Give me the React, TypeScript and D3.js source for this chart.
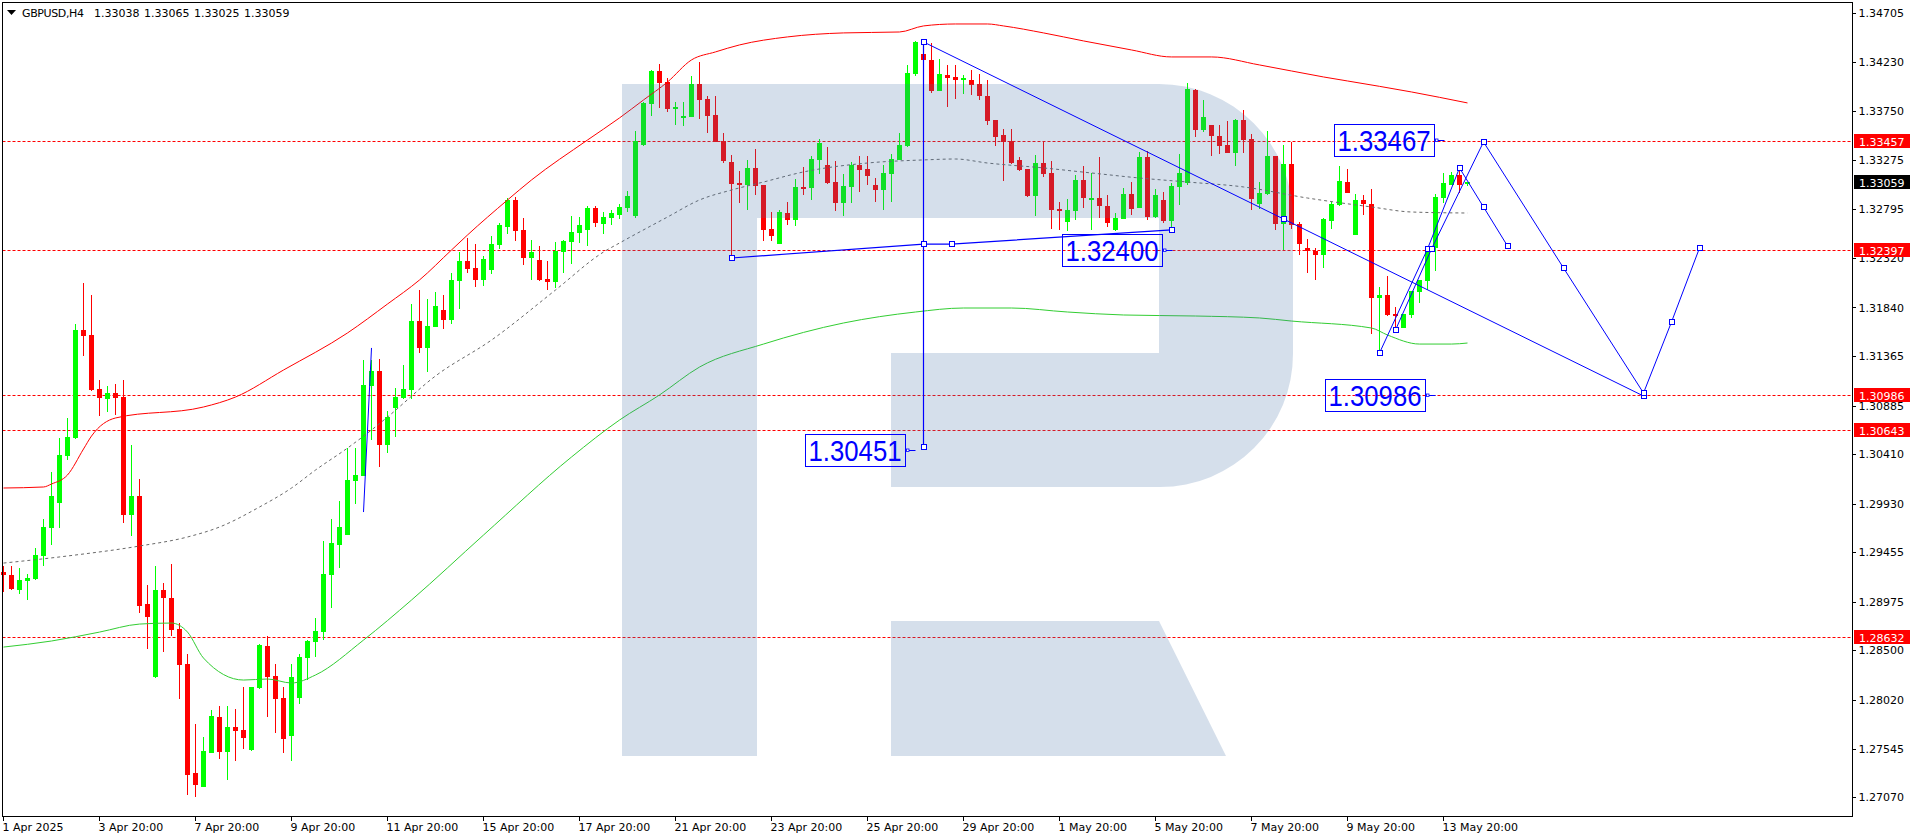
import * as d3 from "d3";
import { useEffect, useRef } from "react";

const opens = [
	1.29264, 1.29235, 1.29088, 1.29176, 1.29196, 1.2942, 1.29692, 1.29936, 1.30394, 1.30569,
	1.31621, 1.31572, 1.31046, 1.30949, 1.31007, 1.30968, 1.29819, 1.30004, 1.28952, 1.28241,
	1.29088, 1.2901, 1.28708, 1.28368, 1.27306, 1.2717, 1.27501, 1.27852, 1.2751, 1.27754,
	1.27725, 1.2753, 1.28134, 1.28543, 1.28251, 1.28037, 1.27667, 1.28037, 1.28426, 1.28582,
	1.28679, 1.29235, 1.29527, 1.29624, 1.3015, 1.30199, 1.31075, 1.31222, 1.30501, 1.30861,
	1.30959, 1.31036, 1.31708, 1.31446, 1.3165, 1.31816, 1.31718, 1.32098, 1.32293, 1.32225,
	1.32108, 1.32205, 1.32449, 1.32624, 1.32887, 1.32595, 1.32322, 1.32303, 1.32118, 1.32088,
	1.3238, 1.32478, 1.32566, 1.32595, 1.32809, 1.32653, 1.32712, 1.32741, 1.32809, 1.32731,
	1.33423, 1.33822, 1.34143, 1.34036, 1.33773, 1.33686, 1.33695, 1.34017, 1.33871, 1.33715,
	1.33462, 1.33257, 1.33053, 1.33033, 1.33199, 1.33033, 1.32605, 1.32458, 1.3276, 1.32692,
	1.33014, 1.33004, 1.33277, 1.33228, 1.33062, 1.32858, 1.33014, 1.33228, 1.33189, 1.33033,
	1.32984, 1.3314, 1.33277, 1.33413, 1.34114, 1.34309, 1.34251, 1.33949, 1.34105, 1.34085,
	1.34056, 1.34056, 1.34017, 1.339, 1.33666, 1.3352, 1.33462, 1.33277, 1.33189, 1.32926,
	1.33247, 1.3315, 1.32799, 1.32673, 1.3278, 1.33082, 1.32887, 1.32906, 1.32829, 1.32595,
	1.32702, 1.32945, 1.32809, 1.33306, 1.32721, 1.32887, 1.32682, 1.33014, 1.33053, 1.33958,
	1.33569, 1.33618, 1.3351, 1.33423, 1.33345, 1.33666, 1.33481, 1.32848, 1.32945, 1.33316,
	1.32653, 1.33238, 1.32653, 1.32419, 1.3239, 1.32351, 1.32682, 1.32838, 1.33062, 1.32546,
	1.32887, 1.32848, 1.31932, 1.31962, 1.31777, 1.3164, 1.31767, 1.31991, 1.32098, 1.32419,
	1.32906, 1.33033, 1.33131, 1.33038,
];

const highs = [
	1.29322, 1.29322, 1.29303, 1.29244, 1.29498, 1.2978, 1.30238, 1.30569, 1.30764, 1.31679,
	1.32079, 1.31962, 1.31134, 1.31075, 1.31095, 1.31134, 1.30501, 1.3017, 1.29137, 1.29322,
	1.29157, 1.29342, 1.28767, 1.28465, 1.27783, 1.27657, 1.2792, 1.27959, 1.27959, 1.27929,
	1.28144, 1.28144, 1.28562, 1.2864, 1.28368, 1.28144, 1.28368, 1.28465, 1.28601, 1.28816,
	1.29566, 1.2978, 1.29955, 1.30471, 1.30471, 1.31329, 1.31329, 1.31338, 1.30832, 1.31056,
	1.3128, 1.31874, 1.3201, 1.31923, 1.31991, 1.31962, 1.32176, 1.3238, 1.32517, 1.32458,
	1.32341, 1.32536, 1.32663, 1.32906, 1.32916, 1.32712, 1.32497, 1.32439, 1.32293, 1.32478,
	1.32497, 1.32731, 1.32721, 1.32829, 1.32829, 1.3277, 1.3279, 1.32848, 1.32975, 1.33559,
	1.33842, 1.34153, 1.34212, 1.34075, 1.33842, 1.33842, 1.34095, 1.34231, 1.339, 1.339,
	1.3354, 1.33325, 1.3317, 1.33277, 1.33384, 1.33033, 1.3277, 1.3279, 1.32868, 1.33092,
	1.33208, 1.33316, 1.33481, 1.33403, 1.33267, 1.3314, 1.33257, 1.33316, 1.33316, 1.33101,
	1.33228, 1.33335, 1.3354, 1.34202, 1.34436, 1.34416, 1.34416, 1.3426, 1.34202, 1.34202,
	1.34105, 1.34153, 1.34114, 1.34056, 1.33666, 1.33579, 1.33579, 1.33306, 1.33189, 1.33325,
	1.33462, 1.33267, 1.32868, 1.32897, 1.33131, 1.33218, 1.3315, 1.33306, 1.32936, 1.3276,
	1.33004, 1.33062, 1.33355, 1.33364, 1.32994, 1.32965, 1.33053, 1.33335, 1.34027, 1.33968,
	1.33861, 1.33618, 1.33618, 1.33656, 1.33676, 1.33764, 1.3353, 1.33062, 1.33559, 1.33316,
	1.33423, 1.33452, 1.32673, 1.32507, 1.32419, 1.32712, 1.32868, 1.33218, 1.33189, 1.32945,
	1.32936, 1.32994, 1.3204, 1.32147, 1.31845, 1.31777, 1.32001, 1.32108, 1.324, 1.32945,
	1.3315, 1.3316, 1.33179, 1.33065,
];

const lows = [
	1.29069, 1.29088, 1.29049, 1.28991, 1.29186, 1.29322, 1.29527, 1.29692, 1.30355, 1.30559,
	1.31368, 1.31027, 1.30783, 1.30822, 1.30793, 1.29741, 1.29614, 1.28865, 1.28514, 1.28231,
	1.28485, 1.2864, 1.28027, 1.27092, 1.27072, 1.2717, 1.27501, 1.27442, 1.27238, 1.27423,
	1.2754, 1.2752, 1.28124, 1.27852, 1.27696, 1.27501, 1.27423, 1.27978, 1.28212, 1.28436,
	1.28601, 1.28913, 1.29303, 1.29624, 1.29926, 1.30199, 1.30549, 1.30286, 1.30423, 1.30579,
	1.30949, 1.30949, 1.31397, 1.31212, 1.3165, 1.31631, 1.31679, 1.31825, 1.32176, 1.3204,
	1.32049, 1.32166, 1.3241, 1.32556, 1.32488, 1.32254, 1.32108, 1.32098, 1.3201, 1.3203,
	1.32176, 1.32264, 1.32468, 1.32439, 1.32624, 1.32556, 1.32644, 1.32702, 1.3277, 1.32712,
	1.33413, 1.33705, 1.33783, 1.33744, 1.33618, 1.33608, 1.33695, 1.33676, 1.3354, 1.33452,
	1.33247, 1.32322, 1.32858, 1.3279, 1.32936, 1.32488, 1.32488, 1.32458, 1.32644, 1.32634,
	1.32936, 1.32887, 1.3314, 1.33043, 1.3278, 1.32731, 1.32858, 1.32965, 1.33033, 1.32868,
	1.3279, 1.32868, 1.33277, 1.33403, 1.34095, 1.33958, 1.33929, 1.33949, 1.33793, 1.33871,
	1.33919, 1.3391, 1.33861, 1.33618, 1.33413, 1.33072, 1.33238, 1.3317, 1.32916, 1.32731,
	1.33111, 1.32605, 1.32595, 1.32585, 1.32692, 1.32809, 1.32595, 1.32712, 1.32624, 1.32585,
	1.32702, 1.32741, 1.32809, 1.32692, 1.32712, 1.32663, 1.32595, 1.32838, 1.33033, 1.33501,
	1.33549, 1.33316, 1.33335, 1.33345, 1.33218, 1.33345, 1.3279, 1.32799, 1.32936, 1.32595,
	1.324, 1.32605, 1.32351, 1.32176, 1.32108, 1.32225, 1.32605, 1.32829, 1.32955, 1.32546,
	1.32741, 1.31582, 1.31406, 1.31757, 1.3164, 1.3164, 1.31738, 1.31884, 1.3201, 1.32195,
	1.32858, 1.33033, 1.32955, 1.33025,
];

const closes = [
	1.29235, 1.29098, 1.29186, 1.29205, 1.29429, 1.29702, 1.30004, 1.30403, 1.30579, 1.31621,
	1.31562, 1.31036, 1.30959, 1.31007, 1.30959, 1.29819, 1.30004, 1.28933, 1.28825, 1.29088,
	1.2901, 1.28699, 1.28358, 1.27287, 1.27189, 1.2752, 1.27861, 1.2751, 1.27754, 1.27715,
	1.27647, 1.28144, 1.28553, 1.28241, 1.28027, 1.27637, 1.28241, 1.28436, 1.28592, 1.28689,
	1.29244, 1.29546, 1.29702, 1.3016, 1.30209, 1.31085, 1.31222, 1.30501, 1.30773, 1.30968,
	1.31046, 1.31708, 1.31446, 1.3166, 1.31855, 1.31718, 1.32108, 1.32293, 1.32215, 1.32108,
	1.32312, 1.32458, 1.32644, 1.32887, 1.32585, 1.32322, 1.3238, 1.32108, 1.32088, 1.3239,
	1.32488, 1.32575, 1.32644, 1.32809, 1.32663, 1.32721, 1.3276, 1.32819, 1.32926, 1.33462,
	1.33832, 1.34143, 1.34027, 1.33773, 1.33793, 1.33705, 1.34017, 1.33861, 1.33705, 1.33452,
	1.33267, 1.33043, 1.33043, 1.33199, 1.33023, 1.32595, 1.32536, 1.3277, 1.32692, 1.33014,
	1.33004, 1.33286, 1.33442, 1.33053, 1.32858, 1.33023, 1.33228, 1.33179, 1.33121, 1.32984,
	1.3315, 1.33286, 1.33423, 1.34124, 1.34426, 1.34251, 1.33949, 1.34114, 1.34075, 1.34056,
	1.34075, 1.34007, 1.339, 1.33656, 1.33501, 1.33452, 1.33247, 1.33179, 1.32926, 1.33247,
	1.3314, 1.3279, 1.3279, 1.3279, 1.33082, 1.32906, 1.32906, 1.32829, 1.32663, 1.32712,
	1.32945, 1.32799, 1.33306, 1.32721, 1.32936, 1.32682, 1.33023, 1.3315, 1.33968, 1.33569,
	1.33695, 1.3351, 1.33413, 1.33345, 1.33666, 1.33471, 1.32897, 1.32955, 1.33316, 1.32653,
	1.33238, 1.32644, 1.32458, 1.3239, 1.32351, 1.32702, 1.32848, 1.33072, 1.32955, 1.32887,
	1.32848, 1.31932, 1.31962, 1.31767, 1.31757, 1.31777, 1.32001, 1.32108, 1.324, 1.32916,
	1.33053, 1.33131, 1.33033, 1.33059,
];

// upper band
const upperBars = [0, 5, 6, 8, 10, 11, 14, 25, 29, 35, 43, 48, 52, 56, 58, 63, 66, 73, 77, 80, 83, 86, 89, 92, 98, 105, 112, 115, 119, 123, 125, 130, 135, 141, 146, 151, 157, 165, 168, 176, 183];
const upperBand = [
	1.30082, 1.30092, 1.30121, 1.30209, 1.30462, 1.30588, 1.30764, 1.30871, 1.30968, 1.31231, 1.31592,
	1.31874, 1.32108, 1.324, 1.32546, 1.32887, 1.33082, 1.33471, 1.33686, 1.33861, 1.34036, 1.34251,
	1.34329, 1.34397, 1.34475, 1.34514, 1.34523, 1.34582, 1.34601, 1.34601, 1.34582, 1.34514, 1.34436,
	1.34348, 1.3428, 1.3428, 1.34202, 1.34085, 1.34046, 1.33939, 1.33832,
];

// middle line
const middleBars = [0, 8, 17, 23, 27, 32, 36, 39, 43, 46, 48, 54, 61, 69, 75, 77, 83, 87, 91, 95, 100, 108, 115, 119, 123, 130, 136, 142, 148, 155, 163, 171, 176, 183];
const middleLine = [
	1.29351, 1.2942, 1.29517, 1.29605, 1.29702, 1.29897, 1.30082, 1.30257, 1.30471, 1.30647, 1.30773,
	1.31173, 1.31523, 1.3201, 1.3238, 1.32468, 1.32721, 1.32887, 1.32984, 1.33062, 1.3316, 1.33247,
	1.33277, 1.33286, 1.33247, 1.33199, 1.3315, 1.33101, 1.33062, 1.33014, 1.32906, 1.32819, 1.3277, 1.3276,
];

// lower band
const lowerBars = [0, 6, 12, 17, 21, 23, 25, 30, 33, 36, 39, 45, 51, 60, 71, 77, 82, 87, 95, 105, 114, 120, 126, 133, 140, 149, 157, 161, 171, 173, 177, 181, 183];
const lowerBand = [
	1.28533, 1.28592, 1.28679, 1.28757, 1.28767, 1.28679, 1.28426, 1.28212, 1.28222, 1.28183, 1.28261,
	1.28601, 1.28991, 1.29624, 1.30384, 1.30744, 1.30988, 1.3126, 1.31484, 1.31689, 1.31796, 1.31835,
	1.31835, 1.31796, 1.31767, 1.31757, 1.31738, 1.31708, 1.3164, 1.31572, 1.31484, 1.31484, 1.31494,
];

// drawn objects
const neckBars = [91, 115, 118.5, 146];
const neckPrices = [1.32322, 1.32458, 1.32458, 1.32595];
const dropBars = [115, 160, 205];
const dropPrices = [1.34426, 1.32702, 1.30978];
const stemBars = [115, 115, 115];
const stemPrices = [1.34426, 1.32458, 1.30481];
const pathABars = [172, 178, 182, 185, 188];
const pathAPrices = [1.31397, 1.3241, 1.33199, 1.32819, 1.32439];
const pathBBars = [174, 178.5, 185, 195, 205, 208.5, 212];
const pathBPrices = [1.31621, 1.3241, 1.33452, 1.32225, 1.31007, 1.31699, 1.32419];
const spikeBars = [45, 46];
const spikePrices = [1.29848, 1.31446];

const targetLabels = [1.33467, 1.324, 1.30986, 1.30451];
const targetRightBars = [178.9, 144.9, 177.75, 112.8];

const levelPrices = [1.33457, 1.32397, 1.30986, 1.30643, 1.28632];
const lastPrice = 1.33059;

const priceTicks = [
	1.34705, 1.3423, 1.3375, 1.33275, 1.32795, 1.3232, 1.3184, 1.31365, 1.30885, 1.3041, 1.2993,
	1.29455, 1.28975, 1.285, 1.2802, 1.27545, 1.2707,
];
const timeTickBars = [0, 12, 24, 36, 48, 60, 72, 84, 96, 108, 120, 132, 144, 156, 168, 180];
const timeTickLabels = [
	"1 Apr 2025", "3 Apr 20:00", "7 Apr 20:00", "9 Apr 20:00", "11 Apr 20:00", "15 Apr 20:00",
	"17 Apr 20:00", "21 Apr 20:00", "23 Apr 20:00", "25 Apr 20:00", "29 Apr 20:00", "1 May 20:00",
	"5 May 20:00", "7 May 20:00", "9 May 20:00", "13 May 20:00",
];
const headerTitle = "GBPUSD,H4";
const headerOhlc = [1.33038, 1.33065, 1.33025, 1.33059];

const FONT = "'DejaVu Sans', sans-serif";
const BLUE = "#0000ff";

export default function App() {
	const svgRef = useRef<SVGSVGElement>(null);

	useEffect(() => {
		const svg = d3.select(svgRef.current);
		if (!svg.node()) return;
		svg.selectAll("*").remove();

		const left = 2.5;
		const right = 1852.5;
		const top = 2.5;
		const bottom = 816.5;

		const xScale = d3.scaleLinear().domain([0, 183]).range([3, 1467]);
		const yScale = d3.scaleLinear().domain([1.34705, 1.2707]).range([13.3, 797.3]);

		svg.append("rect").attr("width", 1916).attr("height", 840).attr("fill", "#fff");

		const chart = svg.append("g");

		// Level lines
		levelPrices.forEach((p) => {
			const y = Math.round(yScale(p)) + 0.5;
			chart
				.append("line")
				.attr("x1", left)
				.attr("x2", right)
				.attr("y1", y)
				.attr("y2", y)
				.attr("stroke", "#ff0000")
				.attr("stroke-dasharray", "3 2");
		});

		// Candles
		const candles = chart.append("g").attr("shape-rendering", "crispEdges");
		opens.forEach((open, i) => {
			const close = closes[i];
			const color = close >= open ? "#00ff00" : "#ff0000";
			const x = xScale(i);
			const yHigh = Math.round(yScale(highs[i]));
			const yLow = Math.round(yScale(lows[i]));
			const yTop = Math.round(yScale(Math.max(open, close)));
			const yBottom = Math.round(yScale(Math.min(open, close)));
			candles
				.append("rect")
				.attr("x", x)
				.attr("y", yHigh)
				.attr("width", 1)
				.attr("height", Math.max(1, yLow - yHigh))
				.attr("fill", color);
			candles
				.append("rect")
				.attr("x", x - 2)
				.attr("y", yTop)
				.attr("width", 5)
				.attr("height", Math.max(2, yBottom - yTop))
				.attr("fill", color);
		});

		// Bands
		const pathOf = (bars: number[], prices: number[]) =>
			d3
				.line<number>()
				.x((b) => xScale(b) + 0.5)
				.y((_, i) => yScale(prices[i]))(bars);
		const bandOf = (bars: number[], prices: number[]) =>
			d3
				.line<number>()
				.curve(d3.curveMonotoneX)
				.x((b) => xScale(b) + 0.5)
				.y((_, i) => yScale(prices[i]))(bars);

		chart
			.append("path")
			.attr("d", bandOf(upperBars, upperBand))
			.attr("fill", "none")
			.attr("stroke", "#ff0000")
			.attr("stroke-width", 1);
		chart
			.append("path")
			.attr("d", bandOf(middleBars, middleLine))
			.attr("fill", "none")
			.attr("stroke", "#696969")
			.attr("stroke-width", 1)
			.attr("stroke-dasharray", "3 3");
		chart
			.append("path")
			.attr("d", bandOf(lowerBars, lowerBand))
			.attr("fill", "none")
			.attr("stroke", "#32cd32")
			.attr("stroke-width", 1);

		// Watermark sits over the candles and tints them
		svg
			.append("path")
			.attr(
				"d",
				"M622 84H1159A134 134 0 0 1 1293 218V354A133 133 0 0 1 1160 487H891V353H1159V218H757V756H622Z" +
					"M891 621H1159L1226 756H891Z",
			)
			.attr("fill", "rgb(70,114,167)")
			.attr("fill-opacity", 0.227);

		// Blue objects
		const objects = svg.append("g");
		const drawObject = (bars: number[], prices: number[], width: number, anchors: boolean) => {
			objects
				.append("path")
				.attr("d", pathOf(bars, prices))
				.attr("fill", "none")
				.attr("stroke", BLUE)
				.attr("stroke-width", width);
			if (!anchors) return;
			bars.forEach((b, i) => {
				objects
					.append("rect")
					.attr("x", Math.round(xScale(b)) - 2)
					.attr("y", Math.round(yScale(prices[i])) - 2.5)
					.attr("width", 5)
					.attr("height", 5)
					.attr("fill", "#fff")
					.attr("stroke", BLUE)
					.attr("shape-rendering", "crispEdges");
			});
		};
		drawObject(stemBars, stemPrices, 1.2, false);
		drawObject(neckBars, neckPrices, 1.2, true);
		drawObject(dropBars, dropPrices, 1, true);
		drawObject(pathABars, pathAPrices, 1, true);
		drawObject(pathBBars, pathBPrices, 1, true);
		drawObject(spikeBars, spikePrices, 1, false);
		drawObject(stemBars.slice(0, 1), stemPrices.slice(0, 1), 1, true);
		drawObject(stemBars.slice(2), stemPrices.slice(2), 1, true);

		// Target labels
		targetLabels.forEach((p, i) => {
			const boxRight = Math.round(xScale(targetRightBars[i])) + 0.5;
			const y = Math.round(yScale(p));
			objects
				.append("rect")
				.attr("x", boxRight - 100)
				.attr("y", y - 15.5)
				.attr("width", 100)
				.attr("height", 32)
				.attr("fill", "none")
				.attr("stroke", BLUE)
				.attr("stroke-width", 1);
			objects
				.append("text")
				.attr("x", boxRight - 97)
				.attr("y", y + 10.5)
				.attr("fill", BLUE)
				.attr("textLength", 93)
				.attr("lengthAdjust", "spacingAndGlyphs")
				.style("font-family", "'Liberation Sans', sans-serif")
				.style("font-size", "29px")
				.text(p.toFixed(5));
			objects
				.append("line")
				.attr("x1", boxRight + 1)
				.attr("x2", boxRight + 10)
				.attr("y1", y + 0.5)
				.attr("y2", y + 0.5)
				.attr("stroke", BLUE);
			objects
				.append("rect")
				.attr("x", boxRight + 1)
				.attr("y", y - 1)
				.attr("width", 2.5)
				.attr("height", 2.5)
				.attr("fill", "#fff")
				.attr("stroke", BLUE)
				.attr("stroke-width", 0.8);
		});

		// Frame
		svg
			.append("rect")
			.attr("x", left)
			.attr("y", top)
			.attr("width", right - left)
			.attr("height", bottom - top)
			.attr("fill", "none")
			.attr("stroke", "#000")
			.attr("shape-rendering", "crispEdges");

		// Price axis
		const yAxis = d3
			.axisRight(yScale)
			.tickValues(priceTicks)
			.tickSize(3)
			.tickPadding(3)
			.tickFormat((d) => (d as number).toFixed(5));
		const yAxisG = svg.append("g").attr("transform", `translate(${right},0)`).call(yAxis);
		yAxisG.select(".domain").remove();
		yAxisG.selectAll("line").attr("stroke", "#000").attr("shape-rendering", "crispEdges");
		yAxisG
			.selectAll("text")
			.attr("fill", "#000")
			.style("font-family", FONT)
			.style("font-size", "11px");

		// Time axis
		const xAxis = d3
			.axisBottom(xScale)
			.tickValues(timeTickBars)
			.tickSize(4)
			.tickPadding(3)
			.tickFormat((_, i) => timeTickLabels[i]);
		const xAxisG = svg.append("g").attr("transform", `translate(0,${bottom})`).call(xAxis);
		xAxisG.select(".domain").remove();
		xAxisG.selectAll("line").attr("stroke", "#000").attr("shape-rendering", "crispEdges");
		xAxisG
			.selectAll("text")
			.attr("fill", "#000")
			.attr("text-anchor", "start")
			.attr("x", -1)
			.style("font-family", FONT)
			.style("font-size", "11px");

		// Price tags on the axis
		const tag = (p: number, fill: string) => {
			const y = Math.round(yScale(p));
			svg
				.append("rect")
				.attr("x", 1854)
				.attr("y", y - 7)
				.attr("width", 56)
				.attr("height", 14)
				.attr("fill", fill);
			svg
				.append("text")
				.attr("x", 1859)
				.attr("y", y + 4.5)
				.attr("fill", "#fff")
				.style("font-family", FONT)
				.style("font-size", "11px")
				.text(p.toFixed(5));
		};
		levelPrices.forEach((p) => tag(p, "#ff0000"));
		tag(lastPrice, "#000");

		// Header
		svg.append("path").attr("d", "M7 10H16L11.5 15Z").attr("fill", "#000");
		svg
			.append("text")
			.attr("x", 22)
			.attr("y", 16.5)
			.attr("fill", "#000")
			.attr("textLength", 62)
			.style("font-family", FONT)
			.style("font-size", "11px")
			.text(headerTitle);
		headerOhlc.forEach((v, i) => {
			svg
				.append("text")
				.attr("x", 94 + i * 50)
				.attr("y", 16.5)
				.attr("fill", "#000")
				.style("font-family", FONT)
				.style("font-size", "11px")
				.text(v.toFixed(5));
		});
	}, []);

	return (
		<svg
			ref={svgRef}
			width={1916}
			height={840}
			style={{ position: "absolute", left: 0, top: 0, display: "block" }}
		/>
	);
}
